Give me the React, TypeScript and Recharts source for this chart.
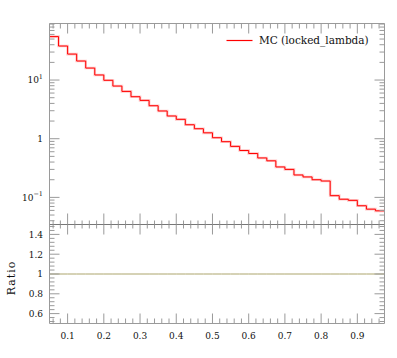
import React from 'react';
import { ComposedChart, Line, XAxis, YAxis, Legend } from 'recharts';

// ---------- data ----------
const binLowEdges = [
  0.05, 0.075, 0.1, 0.125, 0.15, 0.175, 0.2, 0.225, 0.25, 0.275,
  0.3, 0.325, 0.35, 0.375, 0.4, 0.425, 0.45, 0.475, 0.5, 0.525,
  0.55, 0.575, 0.6, 0.625, 0.65, 0.675, 0.7, 0.725, 0.75, 0.775,
  0.8, 0.825, 0.85, 0.875, 0.9, 0.925, 0.95,
];
const binHighEdge = 0.975;
const mcValues = [
  55, 38, 27.7, 21.1, 16.0, 12.2, 9.9, 7.9, 6.4, 5.2,
  4.5, 3.65, 2.97, 2.44, 2.14, 1.73, 1.48, 1.26, 1.04, 0.89,
  0.74, 0.63, 0.56, 0.47, 0.42, 0.33, 0.30, 0.241, 0.223, 0.2,
  0.19, 0.107, 0.093, 0.089, 0.072, 0.063, 0.059,
];
const ratioValues = [
  1, 1, 1, 1, 1, 1, 1, 1, 1, 1,
  1, 1, 1, 1, 1, 1, 1, 1, 1, 1,
  1, 1, 1, 1, 1, 1, 1, 1, 1, 1,
  1, 1, 1, 1, 1, 1, 1,
];
const seriesName = 'MC (locked_lambda)';

const xMajorTicks = [0.1, 0.2, 0.3, 0.4, 0.5, 0.6, 0.7, 0.8, 0.9];
const xTickLabels = ['0.1', '0.2', '0.3', '0.4', '0.5', '0.6', '0.7', '0.8', '0.9'];
const yMajorTicks = [0.1, 1, 10];
const yTickLabels = [
  { base: '10', exp: '\u22121' },
  { base: '1', exp: '' },
  { base: '10', exp: '1' },
];
const ratioMajorTicks = [0.6, 0.8, 1, 1.2, 1.4];
const ratioTickLabels = ['0.6', '0.8', '1', '1.2', '1.4'];

// minor ticks
const xMinorTicks: number[] = [];
for (let k = 3; k <= 48; k++) if (k % 5 !== 0) xMinorTicks.push(Math.round(k * 2) / 100);
const yMinorTicks: number[] = [];
[0.01, 0.1, 1, 10].forEach((d) => {
  for (let m = 2; m <= 9; m++) yMinorTicks.push(Math.round(m * d * 1000) / 1000);
});
const ratioMinorTicks: number[] = [];
for (let k = 13; k <= 37; k++) if (k % 5 !== 0) ratioMinorTicks.push(Math.round(k * 4) / 100);

const xAllTicks = [...xMajorTicks, ...xMinorTicks].sort((a, b) => a - b);
const yAllTicks = [...yMajorTicks, ...yMinorTicks.filter((v) => v >= 0.0345 && v <= 92)].sort((a, b) => a - b);
const ratioAllTicks = [...ratioMajorTicks, ...ratioMinorTicks].sort((a, b) => a - b);

const histData = binLowEdges.map((x, i) => ({ x, mc: mcValues[i], ratio: ratioValues[i] }));
histData.push({
  x: binHighEdge,
  mc: mcValues[mcValues.length - 1],
  ratio: ratioValues[ratioValues.length - 1],
});

// ---------- style ----------
const FONT = "'DejaVu Serif', serif";
const TICK = '#9a9a9a';
const W = 397;
const H = 358;
const PLOT_L = 49.5;
const PLOT_R = 12.5;
const TOP_T = 23.5;
const MID = 224.5;
const BOT = 323.5;

const findIdx = (arr: number[], v: number) => arr.findIndex((m) => Math.abs(m - v) < 1e-6);

const makeXTick = (side: 'top' | 'bottom', withLabels: boolean, majLen = 10, minLen = 5) => (props: any) => {
  const { x, y, payload } = props;
  const mi = findIdx(xMajorTicks, payload.value);
  const len = mi >= 0 ? majLen : minLen;
  const dir = side === 'top' ? 1 : -1;
  return (
    <g>
      <line x1={x} x2={x} y1={y} y2={y + dir * len} stroke={TICK} strokeWidth={1} />
      {withLabels && mi >= 0 ? (
        <text x={x} y={y + 15.5} textAnchor="middle" fontSize={9} fontFamily={FONT} fill="#111">
          {xTickLabels[mi]}
        </text>
      ) : null}
    </g>
  );
};

const makeYLogTick = (side: 'left' | 'right') => (props: any) => {
  const { x, y, payload } = props;
  const mi = findIdx(yMajorTicks, payload.value);
  const len = mi >= 0 ? 10 : 5;
  const dir = side === 'left' ? 1 : -1;
  const lab = mi >= 0 ? yTickLabels[mi] : null;
  return (
    <g>
      <line x1={x} x2={x + dir * len} y1={y} y2={y} stroke={TICK} strokeWidth={1} />
      {side === 'left' && lab ? (
        <text x={x - 6.5} y={y + 3.3} textAnchor="end" fontSize={9} fontFamily={FONT} fill="#111">
          <tspan>{lab.base}</tspan>
          {lab.exp ? (
            <tspan dy={-4.5} fontSize={6.5}>
              {lab.exp}
            </tspan>
          ) : null}
        </text>
      ) : null}
    </g>
  );
};

const makeRatioTick = (side: 'left' | 'right') => (props: any) => {
  const { x, y, payload } = props;
  const mi = findIdx(ratioMajorTicks, payload.value);
  const len = mi >= 0 ? 10 : 5;
  const dir = side === 'left' ? 1 : -1;
  return (
    <g>
      <line x1={x} x2={x + dir * len} y1={y} y2={y} stroke={TICK} strokeWidth={1} />
      {side === 'left' && mi >= 0 ? (
        <text x={x - 6.5} y={y + 3.3} textAnchor="end" fontSize={9} fontFamily={FONT} fill="#111">
          {ratioTickLabels[mi]}
        </text>
      ) : null}
    </g>
  );
};

const LegendContent = () => (
  <div style={{ display: 'flex', alignItems: 'center', fontFamily: FONT, fontSize: 10.5, color: '#111', whiteSpace: 'nowrap' }}>
    <svg width={27} height={12} style={{ display: 'block' }}>
      <line x1={0.5} x2={26.5} y1={6.5} y2={6.5} stroke="#ff0000" strokeWidth={1.2} />
    </svg>
    <span style={{ marginLeft: 6, lineHeight: '12px' }}>{seriesName}</span>
  </div>
);

const RatioLabel = (props: any) => {
  const vb = props.viewBox || {};
  const cx = (vb.x ?? PLOT_L) - 37;
  const cy = (vb.y ?? MID) + (vb.height ?? 99) / 2 + 4;
  return (
    <text
      x={cx}
      y={cy}
      transform={`rotate(-90 ${cx} ${cy})`}
      textAnchor="middle"
      dominantBaseline="central"
      fontSize={11}
      letterSpacing={1}
      fontFamily={FONT}
      fill="#111"
    >
      Ratio
    </text>
  );
};

// axes have size 1 (Recharts skips drawing 0-sized axes); margins compensate
const AX = 1;

export default function App() {
  return (
    <div style={{ position: 'absolute', left: 0, top: 0, width: W, height: H, background: '#fff', fontFamily: FONT }}>
      {/* main panel */}
      <div style={{ position: 'absolute', left: 0, top: 0 }}>
        <ComposedChart
          width={W}
          height={H}
          data={histData}
          margin={{ top: TOP_T - AX, right: PLOT_R - AX, bottom: H - MID - AX, left: PLOT_L - AX }}
        >
          <XAxis
            xAxisId="b"
            dataKey="x"
            type="number"
            domain={[0.05, 0.975]}
            allowDataOverflow
            ticks={xAllTicks}
            interval={0}
            height={AX}
            tickSize={0}
            tickMargin={0}
            axisLine={{ stroke: '#777' }}
            tickLine={false}
            tick={makeXTick('bottom', false, 11, 4)}
          />
          <XAxis
            xAxisId="t"
            orientation="top"
            dataKey="x"
            type="number"
            domain={[0.05, 0.975]}
            allowDataOverflow
            ticks={xAllTicks}
            interval={0}
            height={AX}
            tickSize={0}
            tickMargin={0}
            axisLine={{ stroke: TICK }}
            tickLine={false}
            tick={makeXTick('top', false)}
          />
          <YAxis
            yAxisId="l"
            type="number"
            scale="log"
            domain={[0.0345, 92]}
            allowDataOverflow
            ticks={yAllTicks}
            interval={0}
            width={AX}
            tickSize={0}
            tickMargin={0}
            axisLine={{ stroke: TICK }}
            tickLine={false}
            tick={makeYLogTick('left')}
          />
          <YAxis
            yAxisId="r"
            orientation="right"
            type="number"
            scale="log"
            domain={[0.0345, 92]}
            allowDataOverflow
            ticks={yAllTicks}
            interval={0}
            width={AX}
            tickSize={0}
            tickMargin={0}
            axisLine={{ stroke: TICK }}
            tickLine={false}
            tick={makeYLogTick('right')}
          />
          <Line
            xAxisId="b"
            yAxisId="l"
            type="stepAfter"
            dataKey="mc"
            stroke="#ff0000"
            strokeOpacity={0.22}
            strokeWidth={2.6}
            dot={false}
            activeDot={false}
            legendType="none"
            isAnimationActive={false}
          />
          <Line
            xAxisId="b"
            yAxisId="l"
            type="stepAfter"
            dataKey="mc"
            name={seriesName}
            stroke="#ff0000"
            strokeWidth={1}
            dot={false}
            activeDot={false}
            isAnimationActive={false}
          />
          <Legend
            layout="vertical"
            align="center"
            verticalAlign="middle"
            content={<LegendContent />}
            wrapperStyle={{ top: 34, left: 226, width: 'auto', height: 'auto' }}
          />
        </ComposedChart>
      </div>
      {/* ratio panel */}
      <div style={{ position: 'absolute', left: 0, top: 0 }}>
        <ComposedChart
          width={W}
          height={H}
          data={histData}
          margin={{ top: MID - AX, right: PLOT_R - AX, bottom: H - BOT - AX, left: PLOT_L - AX }}
        >
          <XAxis
            xAxisId="b"
            dataKey="x"
            type="number"
            domain={[0.05, 0.975]}
            allowDataOverflow
            ticks={xAllTicks}
            interval={0}
            height={AX}
            tickSize={0}
            tickMargin={0}
            axisLine={{ stroke: TICK }}
            tickLine={false}
            tick={makeXTick('bottom', true)}
          />
          <XAxis
            xAxisId="t"
            orientation="top"
            dataKey="x"
            type="number"
            domain={[0.05, 0.975]}
            allowDataOverflow
            ticks={xAllTicks}
            interval={0}
            height={AX}
            tickSize={0}
            tickMargin={0}
            axisLine={{ stroke: '#777' }}
            tickLine={false}
            tick={makeXTick('top', false, 10, 4)}
          />
          <YAxis
            yAxisId="l"
            type="number"
            domain={[0.5, 1.5]}
            allowDataOverflow
            ticks={ratioAllTicks}
            interval={0}
            width={AX}
            tickSize={0}
            tickMargin={0}
            axisLine={{ stroke: TICK }}
            tickLine={false}
            tick={makeRatioTick('left')}
            label={<RatioLabel />}
          />
          <YAxis
            yAxisId="r"
            orientation="right"
            type="number"
            domain={[0.5, 1.5]}
            allowDataOverflow
            ticks={ratioAllTicks}
            interval={0}
            width={AX}
            tickSize={0}
            tickMargin={0}
            axisLine={{ stroke: TICK }}
            tickLine={false}
            tick={makeRatioTick('right')}
          />
          <Line
            xAxisId="b"
            yAxisId="l"
            type="stepAfter"
            dataKey="ratio"
            stroke="#aca56c"
            strokeWidth={1}
            dot={false}
            activeDot={false}
            isAnimationActive={false}
          />
        </ComposedChart>
      </div>
    </div>
  );
}
